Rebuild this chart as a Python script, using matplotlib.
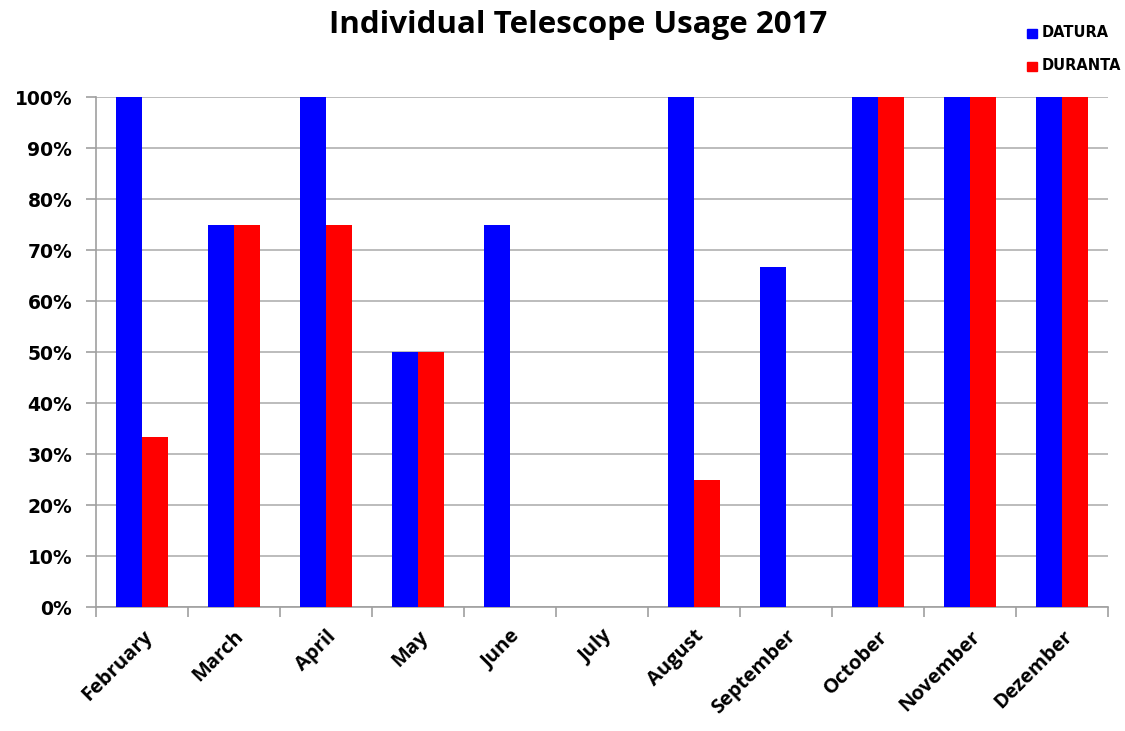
import numpy as np
import matplotlib.pyplot as plt
from matplotlib.ticker import FixedLocator, PercentFormatter

months = ["February", "March", "April", "May", "June", "July", "August",
          "September", "October", "November", "Dezember"]
datura = [100, 75, 100, 50, 75, 0, 100, 66.7, 100, 100, 100]
duranta = [33.3, 75, 75, 50, 0, 0, 25, 0, 100, 100, 100]
series_names = ["DATURA", "DURANTA"]
series_colors = ["#0000ff", "#ff0000"]

fig = plt.figure(figsize=(11.25, 7.31), dpi=100)
ax = fig.add_axes([0.0853, 0.1696, 0.8997, 0.6977])

x = np.arange(len(months))
w = 0.283
ax.bar(x - w / 2, datura, width=w, color=series_colors[0], zorder=3)
ax.bar(x + w / 2, duranta, width=w, color=series_colors[1], zorder=3)

ax.set_xlim(-0.5, len(months) - 0.5)
ax.set_ylim(0, 100)
ax.yaxis.set_major_locator(FixedLocator(np.arange(0, 101, 10)))
ax.yaxis.set_major_formatter(PercentFormatter(decimals=0))
ax.grid(axis="y", color="#b0b0b0", linewidth=1.2, zorder=0)

# category ticks sit between the groups, labels centred under each group
ax.set_xticks(np.arange(-0.5, len(months)), minor=False)
ax.set_xticklabels([])
ax.set_xticks(x, minor=True)
ax.set_xticklabels(months, minor=True, rotation=45, ha="right",
                   rotation_mode="anchor", fontsize=14.5, fontweight="bold",
                   family="Open Sans")
ax.tick_params(axis="x", which="minor", length=0, pad=14)
ax.tick_params(axis="x", which="major", length=7, color="#a0a0a0", width=1.2)
ax.tick_params(axis="y", length=7, color="#a0a0a0", width=1.2, pad=10,
               labelsize=13.5)
for lbl in ax.get_yticklabels():
    lbl.set_fontweight("bold")
    lbl.set_family("DejaVu Sans")

for side in ("top", "right"):
    ax.spines[side].set_visible(False)
for side in ("left", "bottom"):
    ax.spines[side].set_color("#a0a0a0")
    ax.spines[side].set_linewidth(1.2)

fig.text(0.514, 0.966, "Individual Telescope Usage 2017", ha="center",
         va="center", fontsize=22.5, fontweight="bold", family="Open Sans")

# legend entries at the top right corner
for i, (name, col) in enumerate(zip(series_names, series_colors)):
    yy = 0.955 - i * 0.045
    fig.patches.append(plt.Rectangle((0.913, yy - 0.0075), 0.0085, 0.013,
                                     transform=fig.transFigure, color=col))
    fig.text(0.926, yy, name, ha="left", va="center", fontsize=10.5,
             fontweight="bold", family="DejaVu Sans")

fig.savefig("out.png", dpi=100, facecolor="white")
